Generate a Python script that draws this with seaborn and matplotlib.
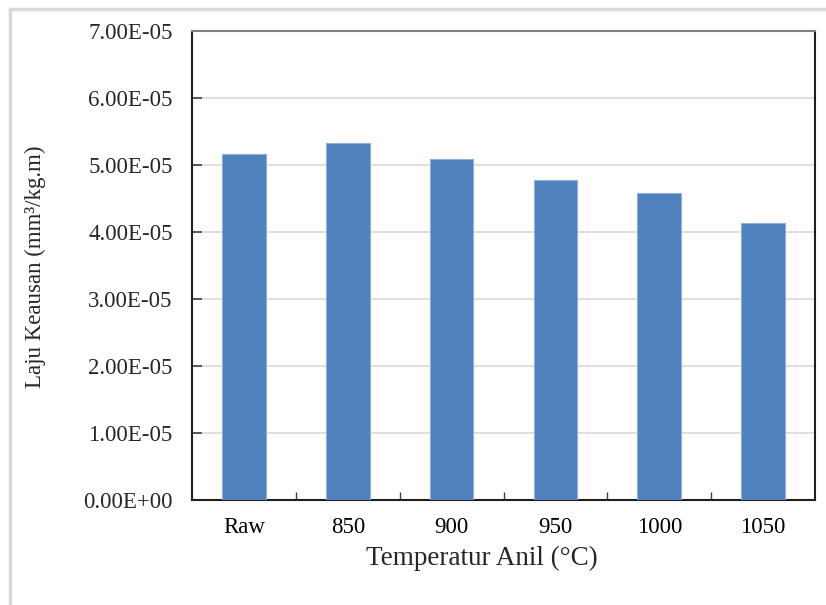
import pandas as pd
import matplotlib.pyplot as plt
import matplotlib.patches as mpatches
import seaborn as sns
import numpy as np

# Data
temperatures = ['Raw', '850', '900', '950', '1000', '1050']
wear_rate = [5.16e-5, 5.33e-5, 5.09e-5, 4.78e-5, 4.58e-5, 4.13e-5]
y_ticks = [0, 1e-5, 2e-5, 3e-5, 4e-5, 5e-5, 6e-5, 7e-5]

sns.set_theme(style="white")
plt.rcParams['font.family'] = ['Liberation Serif', 'DejaVu Serif']
plt.rcParams['ytick.direction'] = 'in'
plt.rcParams['xtick.direction'] = 'in'

df = pd.DataFrame({'Temperatur': temperatures, 'Laju': wear_rate})

fig = plt.figure(figsize=(8.26, 6.05), dpi=100)
ax = fig.add_axes([192 / 826, 1 - 500 / 605, 623 / 826, 469 / 605])

# light gray outer frame like the Excel chart area
fig.patches.append(mpatches.Rectangle((10 / 826, -0.1), 1.0, 1.1 - 9 / 605, transform=fig.transFigure,
                                      fill=False, edgecolor='#d9d9d9', linewidth=2.5, zorder=0))

sns.barplot(data=df, x='Temperatur', y='Laju', color='#4F81BD', saturation=1,
            width=0.42, edgecolor='#8DB0DC', linewidth=0.8, ax=ax, zorder=3)

ax.set_xlim(-0.5, len(temperatures) - 0.5)
ax.set_ylim(0, 7e-5)
ax.set_yticks(y_ticks)
ax.set_yticklabels([f"{v:.2E}" for v in y_ticks], fontsize=16.5)
ax.set_xticklabels(temperatures, fontsize=16.5)
ax.grid(axis='y', color='#d9d9d9', linewidth=1.2, zorder=0)
ax.set_axisbelow(True)

ax.set_xticks(np.arange(0.5, len(temperatures) - 1, 1), minor=True)
ax.tick_params(axis='x', which='major', length=0, pad=12, colors='black')
ax.tick_params(axis='x', which='minor', direction='in', length=6, width=1, color='#404040', bottom=True)
ax.tick_params(axis='y', which='major', direction='in', length=7, width=1.2, pad=14,
               left=True, color='#404040')

for side in ['left', 'bottom', 'right']:
    ax.spines[side].set_color('#202020')
    ax.spines[side].set_linewidth(1.5)
ax.spines['top'].set_color('#7f7f7f')
ax.spines['top'].set_linewidth(1.5)

ax.set_xlabel('Temperatur Anil (°C)', fontsize=19.5)
ax.xaxis.set_label_coords(0.466, -0.125)
ax.xaxis.label.set_va('center')
ax.set_ylabel('Laju Keausan (mm³/kg.m)', fontsize=16.5)
ax.yaxis.set_label_coords(-0.252, 0.498)
ax.yaxis.label.set_va('center')

fig.savefig('out.png', dpi=100)
